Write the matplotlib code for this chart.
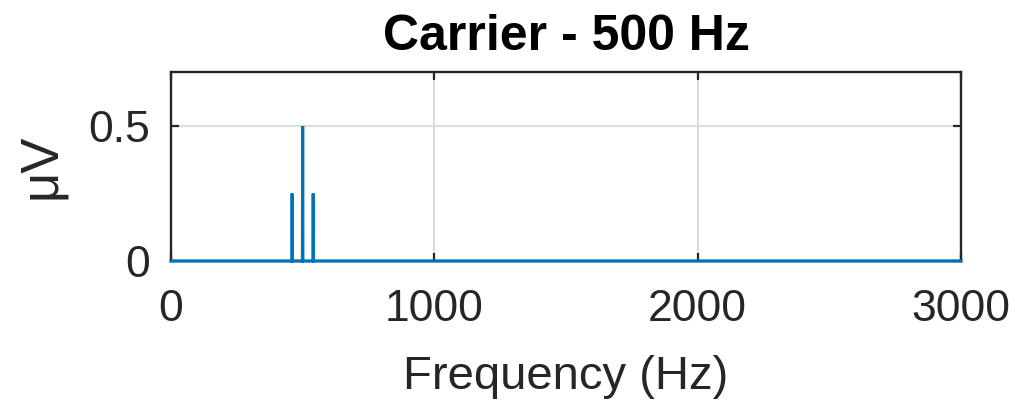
import matplotlib
matplotlib.use("Agg")
import matplotlib.pyplot as plt

# Data (spectrum samples)
freq_hz = [0, 459, 460, 461, 499, 500, 501, 539, 540, 541, 3000]
amp_uv = [0, 0, 0.25, 0, 0, 0.5, 0, 0, 0.25, 0, 0]
x_ticks = [0, 1000, 2000, 3000]
y_ticks = [0, 0.5]
y_tick_labels = ["0", "0.5"]
title = "Carrier - 500 Hz"
xlabel = "Frequency (Hz)"
ylabel = "μV"

plt.rcParams['font.family'] = ['Liberation Sans', 'DejaVu Sans']

fig = plt.figure(figsize=(10.15, 4.2), dpi=100)
ax = fig.add_axes([171/1015, 1-261/420, (961-171)/1015, (261-72)/420])

ax.plot(freq_hz, amp_uv, color='#0072BD', linewidth=2.2, solid_joinstyle='miter', clip_on=False, zorder=3)

ax.set_xlim(0, 3000)
ax.set_ylim(0, 0.7)
ax.set_xticks(x_ticks)
ax.set_yticks(y_ticks)
ax.set_yticklabels(y_tick_labels)
ax.grid(True, color='#dcdcdc', linewidth=1.5)
ax.set_axisbelow(True)
ax.tick_params(direction='in', length=6, width=1.6, labelsize=32, colors='#262626',
               top=True, right=True)
ax.tick_params(axis='x', pad=20)
ax.tick_params(axis='y', pad=15)
for s in ax.spines.values():
    s.set_linewidth(1.7)
    s.set_color('#262626')

ax.set_title(title, fontsize=36, fontweight='bold', pad=16)
ax.set_xlabel(xlabel, fontsize=34, color='#262626', labelpad=18)
ax.set_ylabel(ylabel, fontsize=38, color='#262626', labelpad=16)

fig.savefig("out.png", dpi=100)
